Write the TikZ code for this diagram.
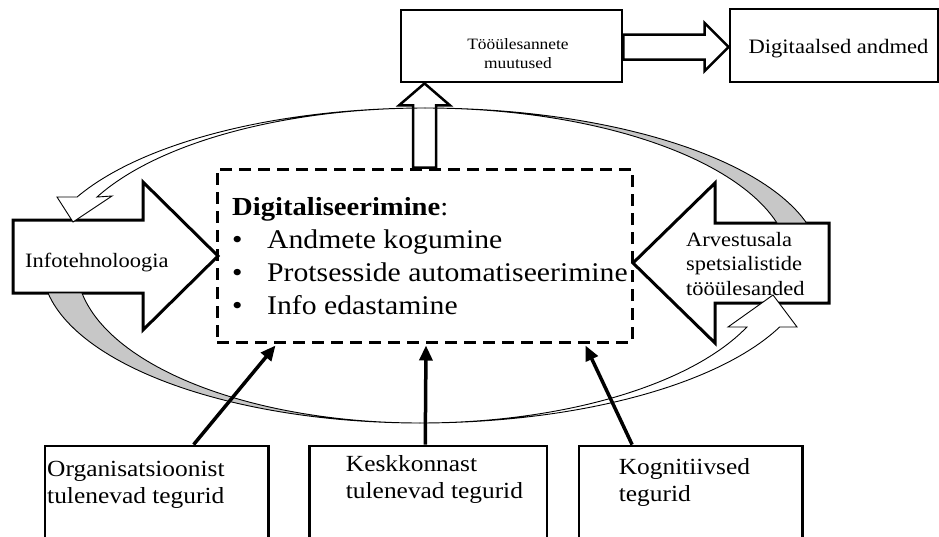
\documentclass[tikz,border=0pt]{standalone}
\usepackage{fontspec}
\setmainfont{Liberation Serif}[FakeStretch=1.1]
\usetikzlibrary{arrows.meta,calc}

\begin{document}
\begin{tikzpicture}[x=1pt,y=-1pt,
  framebox/.style={draw,line width=2.8pt,inner sep=0pt,fill=white},
  hollow/.style={draw,line width=2.5pt,fill=white,line join=miter},
  bigarrow/.style={draw,line width=3pt,fill=white,line join=miter},
  band/.style={draw,line width=0.9pt,line join=miter},
  bandback/.style={band,fill=black!22},
  bandfront/.style={band,fill=white},
  factor/.style={-{Triangle[length=15pt,width=13pt]},line width=3.5pt},
  lbl/.style={inner sep=0pt,anchor=base west,align=left}]

\useasboundingbox (0,0) rectangle (939,536);
\clip (0,0) rectangle (939,536);

% top row (multi-line labels are placed by the baseline of their last line)
\node[framebox,minimum width=221pt,minimum height=72pt] (tasks) at (511.5,46) {};
\node[framebox,minimum width=208pt,minimum height=73pt] (data) at (834,45.5) {};
\node[lbl,anchor=base,align=center,font=\fontsize{15.8}{19.5}\selectfont] (tasksT) at (518,68.5) {Tööülesannete\\muutused};
\node[lbl,anchor=base,font=\fontsize{20.5}{24}\selectfont] (dataT) at (838.5,53) {Digitaalsed andmed};

% central dashed box
\node[draw,dash pattern=on 12pt off 7pt,line width=3pt,minimum width=415pt,minimum height=173pt,inner sep=0pt] (digi) at (424.5,255.5) {};
\node[lbl,font=\fontsize{26}{31}\selectfont] (digiH) at (232,215) {\textbf{Digitaliseerimine}:};
\node[lbl,font=\fontsize{27}{33}\selectfont] (digiL) at (232,314)
  {\makebox[35pt][l]{•}Andmete kogumine\\
   \makebox[35pt][l]{•}Protsesside automatiseerimine\\
   \makebox[35pt][l]{•}Info edastamine};

% hollow arrow between the top boxes
\coordinate (hs) at ($(tasks.east)+(0,1)$);
\coordinate (ht) at ($(data.west)+(0,1.5)$);
\draw[hollow] ($(hs)+(0,-12.5)$) -- ($(ht)+(-24,-12.5)$) -- ($(ht)+(-24,-24)$)
  -- (ht) -- ($(ht)+(-24,24)$) -- ($(ht)+(-24,12.5)$) -- ($(hs)+(0,12.5)$) -- cycle;

% hollow arrow from the dashed box up to the task box
\coordinate (ut) at (digi.north |- tasks.south);
\draw[hollow] ($(digi.north)+(-11.5,0)$) -- ($(ut)+(-11.5,22)$) -- ($(ut)+(-25.5,22)$)
  -- (ut) -- ($(ut)+(25.5,22)$) -- ($(ut)+(11.5,22)$) -- ($(digi.north)+(11.5,0)$) -- cycle;

% block arrows on both sides
\draw[bigarrow] (13,220) -- (143,220) -- (143,182) -- (218,256) -- (143,330) -- (143,293) -- (13,293) -- cycle;
\node[lbl,font=\fontsize{20.4}{24.5}\selectfont] (itT) at (25,267) {Infotehnoloogia};
\draw[bigarrow] (829,223) -- (715,223) -- (715,183) -- (633,263) -- (715,343) -- (715,303) -- (829,303) -- cycle;
\node[lbl,font=\fontsize{20.4}{24.5}\selectfont] (accT) at (686,295) {Arvestusala\\spetsialistide\\tööülesanded};

% upper curved ribbon arrow (right to left)
\draw[bandback] plot[domain=-15.5:-90,samples=60] ({425+396*cos(\x)},{265+157*sin(\x)})
  -- plot[domain=-90:-15.5,samples=60] ({425+365.3*cos(\x)},{265+157*sin(\x)}) -- cycle;
\draw[bandfront] plot[domain=-90:-154.34,samples=60] ({425+386*cos(\x)},{265+157*sin(\x)})
  -- (57,197) -- (73,222) -- (112,196)
  -- plot[domain=-154.34:-90,samples=60] ({425+363.9*cos(\x)},{265+157*sin(\x)}) -- cycle;

% lower curved ribbon arrow (left to right)
\draw[bandback] plot[domain=169.79:90,samples=60] ({420+378*cos(\x)},{265+158*sin(\x)})
  -- plot[domain=90:169.79,samples=60] ({420+343.5*cos(\x)},{265+158*sin(\x)}) -- cycle;
\draw[bandfront] plot[domain=90:23.1,samples=60] ({420+391*cos(\x)},{265+158*sin(\x)})
  -- (797,327) -- (773,295) -- (728,327)
  -- plot[domain=23.1:90,samples=60] ({420+355.4*cos(\x)},{265+158*sin(\x)}) -- cycle;

% factor boxes
\node[framebox,minimum width=223.5pt,minimum height=124pt] (org) at (156.75,508) {};
\node[framebox,minimum width=237.5pt,minimum height=124pt] (env) at (428.25,508) {};
\node[framebox,minimum width=223.4pt,minimum height=124pt] (cog) at (690.7,508) {};
\node[lbl,font=\fontsize{23.1}{27}\selectfont] (orgT) at (47,503.5) {Organisatsioonist\\tulenevad tegurid};
\node[lbl,font=\fontsize{23.1}{27}\selectfont] (envT) at (345.7,498.7) {Keskkonnast\\tulenevad tegurid};
\node[lbl,font=\fontsize{23.1}{27}\selectfont] (cogT) at (618.6,501.5) {Kognitiivsed\\tegurid};

% influence arrows
\coordinate (f1) at ($(org.north west)+(150,0)$);
\coordinate (f2) at ($(env.north)+(-3,0)$);
\coordinate (f3) at ($(cog.north west)+(54.5,0)$);
\draw[factor] (f1) -- ($(digi.south west)+(60,2)$);
\draw[factor] (f2) -- ($(digi.south)+(1.5,2)$);
\draw[factor] (f3) -- ($(digi.south east)+(-48,2)$);
\end{tikzpicture}
\end{document}
